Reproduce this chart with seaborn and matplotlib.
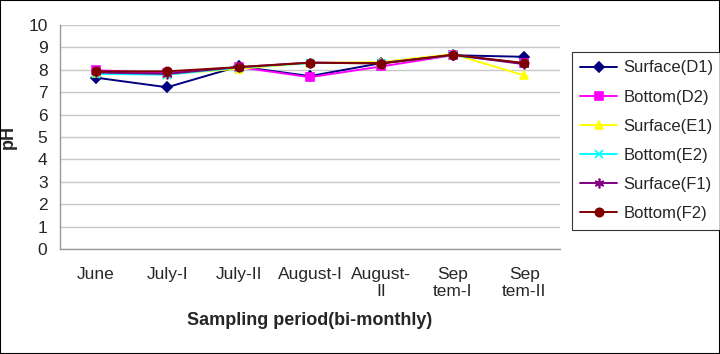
import numpy as np
import pandas as pd
import seaborn as sns
import matplotlib.pyplot as plt
from matplotlib.patches import Rectangle

periods = ["June", "July-I", "July-II", "August-I", "August-\nII", "Sep\ntem-I", "Sep\ntem-II"]
series_names = ["Surface(D1)", "Bottom(D2)", "Surface(E1)", "Bottom(E2)", "Surface(F1)", "Bottom(F2)"]

surface_d1 = [7.65, 7.22, 8.15, 7.72, 8.3, 8.65, 8.58]
bottom_d2 = [7.98, 7.85, 8.12, 7.67, 8.15, 8.65, 8.3]
surface_e1 = [7.85, 7.8, 8.05, 8.3, 8.35, 8.7, 7.75]
bottom_e2 = [7.82, 7.78, 8.1, 8.3, 8.3, 8.65, 8.28]
surface_f1 = [7.88, 7.82, 8.12, 8.32, 8.3, 8.67, 8.25]
bottom_f2 = [7.93, 7.93, 8.12, 8.32, 8.28, 8.67, 8.3]

colors = ["#000080", "#FF00FF", "#FFFF00", "#00FFFF", "#800080", "#800000"]
markers = ["D", "s", "^", "x", (6, 2, 0), "o"]
sizes = [5, 5.5, 6, 5.5, 7, 6]

sns.set_style("white")
plt.rcParams['font.family'] = ['Liberation Sans', 'DejaVu Sans']

values = [surface_d1, bottom_d2, surface_e1, bottom_e2, surface_f1, bottom_f2]
df = pd.DataFrame({
    "x": np.tile(np.arange(len(periods)), len(series_names)),
    "pH": np.concatenate(values),
    "series": np.repeat(series_names, len(periods)),
})

fig = plt.figure(figsize=(7.2, 3.54), dpi=100)
ax = fig.add_axes([60 / 720, 1 - 249 / 354, 500 / 720, 224 / 354])

for name, c, m, s in zip(series_names, colors, markers, sizes):
    sub = df[df["series"] == name]
    sns.lineplot(data=sub, x="x", y="pH", ax=ax, color=c, marker=m, markersize=s,
                 markeredgecolor=c, markerfacecolor=c, markeredgewidth=1.2,
                 linewidth=1.4, label=name, legend=False)

ax.set_xlim(-0.5, len(periods) - 0.5)
ax.set_ylim(0, 10)
ax.set_yticks(range(0, 11))
ax.set_xticks(range(len(periods)))
ax.set_xticklabels(periods, fontsize=12.5, linespacing=1.2, va="top")
ax.set_xticks(np.arange(-0.5, len(periods)), minor=True)
ax.tick_params(axis="x", which="major", length=0, pad=13)
ax.tick_params(axis="x", which="minor", length=4, color="#999999", direction="out")
ax.tick_params(axis="y", length=4, color="#999999", direction="out", labelsize=12.5, pad=5)
ax.yaxis.grid(True, color="#c8c8c8", linewidth=1)
ax.set_axisbelow(True)
for side in ["top", "right"]:
    ax.spines[side].set_visible(False)
for side in ["left", "bottom"]:
    ax.spines[side].set_color("#999999")
    ax.spines[side].set_linewidth(1)

ax.set_xlabel("Sampling period(bi-monthly)", fontsize=13, fontweight="bold", labelpad=9)
ax.set_ylabel("pH", fontsize=13, fontweight="bold", labelpad=8)

handles, labels = ax.get_legend_handles_labels()
leg = fig.legend(handles, labels, loc="upper left", bbox_to_anchor=(572 / 720, 1 - 52 / 354),
                 frameon=True, fancybox=False, edgecolor="black", fontsize=12,
                 labelspacing=0.85, handlelength=2.2, borderpad=0.5, handletextpad=0.4,
                 borderaxespad=0)
leg.get_frame().set_linewidth(0.8)

fig.add_artist(Rectangle((0, 0), 1, 1, transform=fig.transFigure, fill=False,
                         edgecolor="black", linewidth=1.5))

fig.savefig("out.png", dpi=100)
